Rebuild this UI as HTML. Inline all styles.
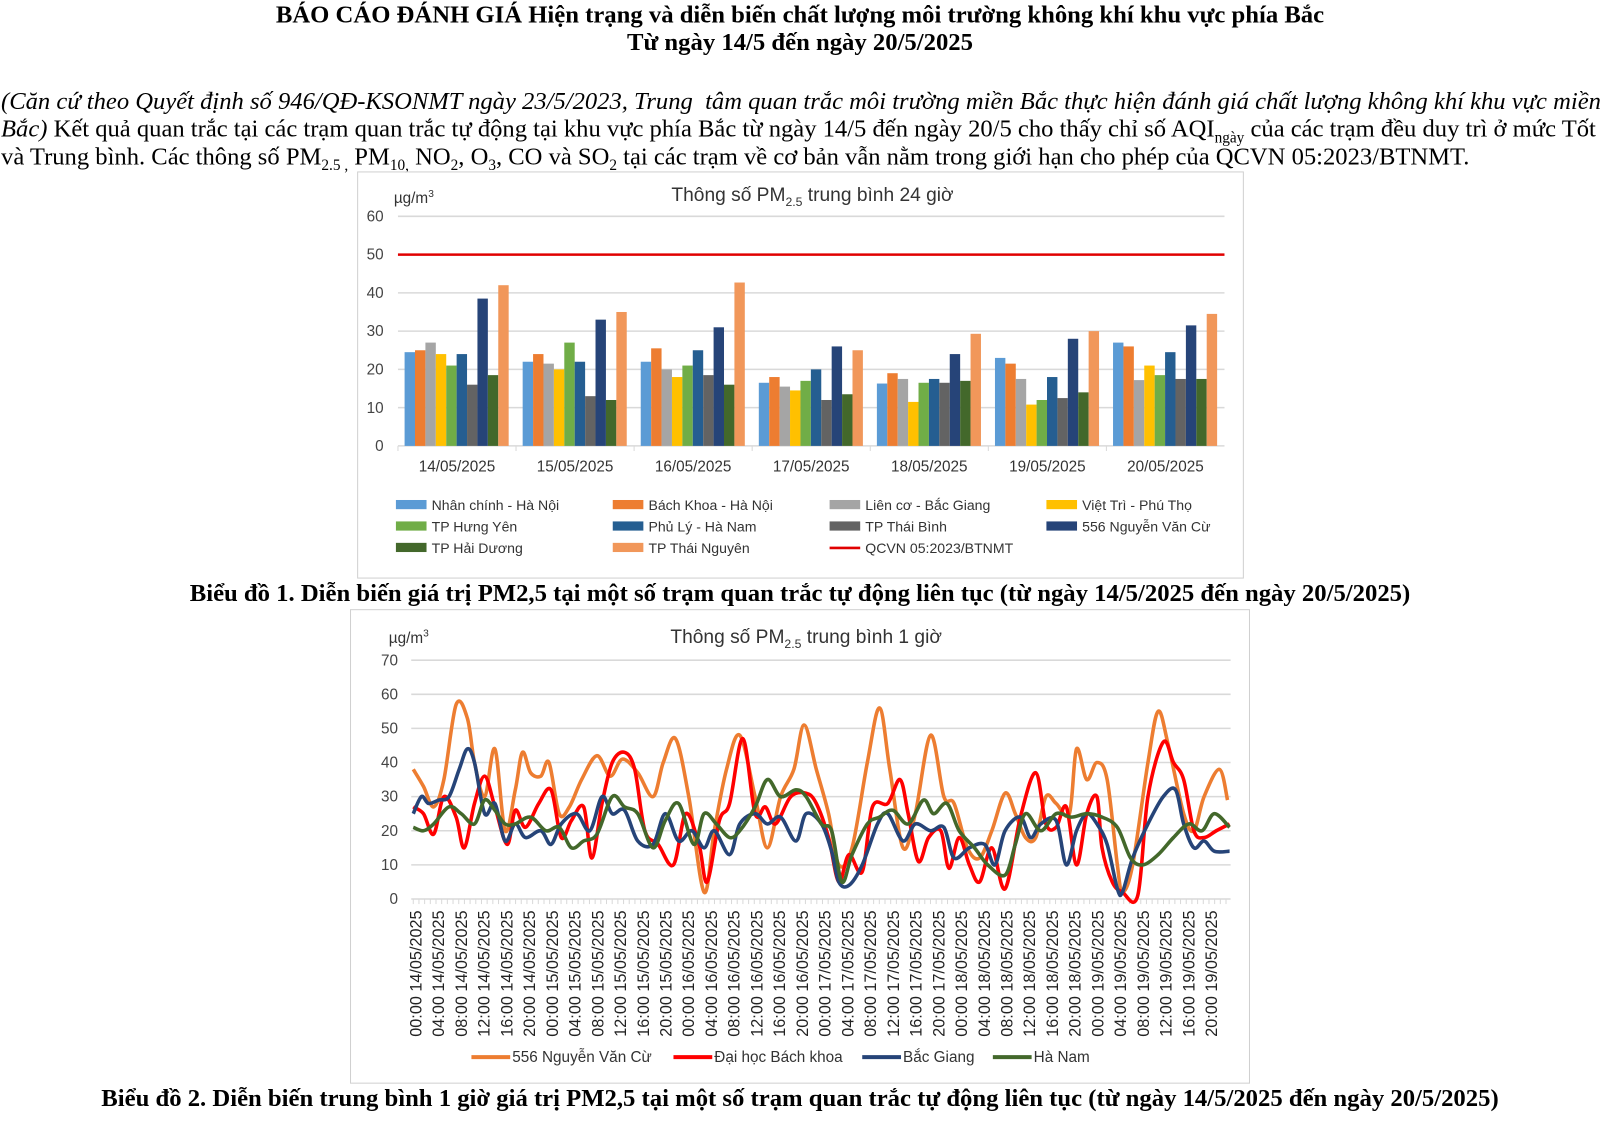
<!DOCTYPE html>
<html><head><meta charset="utf-8"><style>
body{margin:0;width:1600px;height:1132px;background:#fff;overflow:hidden}
#w{position:relative;width:1568px;height:1110px;transform:scale(1.0204);transform-origin:0 0;font-family:"Liberation Serif",serif;color:#000}
.t{position:absolute;left:0;width:1568px;text-align:center;font-weight:bold;font-size:24.2px;white-space:nowrap}
.p{position:absolute;left:1px;width:1600px;font-size:24.1px;white-space:nowrap}
sub{font-size:15px}
svg{position:absolute;left:0;top:0}
</style></head><body><div id="w">
<div class="t" style="top:1px">BÁO CÁO ĐÁNH GIÁ Hiện trạng và diễn biến chất lượng môi trường không khí khu vực phía Bắc</div>
<div class="t" style="top:28px">Từ ngày 14/5 đến ngày 20/5/2025</div>
<div class="p" style="top:87px"><i>(Căn cứ theo Quyết định số 946/QĐ-KSONMT ngày 23/5/2023, Trung&nbsp; tâm quan trắc môi trường miền Bắc thực hiện đánh giá chất lượng không khí khu vực miền</i></div>
<div class="p" style="top:114px"><i>Bắc)</i> Kết quả quan trắc tại các trạm quan trắc tự động tại khu vực phía Bắc từ ngày 14/5 đến ngày 20/5 cho thấy chỉ số AQI<sub>ngày</sub> của các trạm đều duy trì ở mức Tốt</div>
<div class="p" style="top:141px">và Trung bình. Các thông số PM<sub>2.5 ,</sub> PM<sub>10,</sub> NO<sub>2</sub>, O<sub>3</sub>, CO và SO<sub>2</sub> tại các trạm về cơ bản vẫn nằm trong giới hạn cho phép của QCVN 05:2023/BTNMT.</div>
<div class="t" style="top:568px;font-size:24.2px">Biểu đồ 1. Diễn biến giá trị PM2,5 tại một số trạm quan trắc tự động liên tục (từ ngày 14/5/2025 đến ngày 20/5/2025)</div>
<div class="t" style="top:1063px;font-size:24.2px">Biểu đồ 2. Diễn biến trung bình 1 giờ giá trị PM2,5 tại một số trạm quan trắc tự động liên tục (từ ngày 14/5/2025 đến ngày 20/5/2025)</div>
<svg id="s" width="1568" height="1110" font-family="Liberation Sans, sans-serif"></svg>
</div>
<script>
const s=document.getElementById('s');let h='';
function T(x,y,t,o){h+=`<text x="${x}" y="${y}" ${o||''}>${t}</text>`}
h+='<rect x="350.5" y="168.5" width="868" height="398" fill="none" stroke="#d0d0d0"/>';
T(386,199,'µg/m<tspan font-size="10" dy="-6">3</tspan>','font-size="15" fill="#333"');
T(658,197,'Thông số PM<tspan font-size="12" dy="5">2.5</tspan><tspan dy="-5"> trung bình 24 giờ</tspan>','font-size="18.8" fill="#333"');
for(let v=0;v<=60;v+=10){let y=437-v*3.75;h+=`<line x1="390" x2="1200" y1="${y}" y2="${y}" stroke="#d9d9d9" stroke-width="1.5"/>`;T(376,y+5,v,'font-size="15" fill="#444" text-anchor="end"')}
h+='<line x1="390" x2="1200" y1="249.5" y2="249.5" stroke="#e00000" stroke-width="2.5"/>';
const C=['#5b9bd5','#ed7d31','#a5a5a5','#ffc000','#70ad47','#255e91','#636363','#264478','#43682b','#f1975a'];
const D=[[24.5,25,27,24,21,24,16,38.5,18.5,42],[22,24,21.5,20,27,22,13,33,12,35],[22,25.5,20,18,21,25,18.5,31,16,42.7],[16.5,18,15.5,14.5,17,20,12,26,13.5,25],[16.3,19,17.5,11.5,16.5,17.5,16.5,24,17,29.3],[23,21.5,17.5,10.8,12,18,12.5,28,14,30],[27,26,17.2,21,18.5,24.5,17.5,31.5,17.5,34.5]];
const dates=['14/05/2025','15/05/2025','16/05/2025','17/05/2025','18/05/2025','19/05/2025','20/05/2025'];
const gw=810/7;
D.forEach((g,i)=>{let x0=390+i*gw+6.5;g.forEach((v,j)=>{h+=`<rect x="${x0+j*10.2}" y="${437-v*3.75}" width="10.2" height="${v*3.75}" fill="${C[j]}"/>`});T(390+i*gw+gw/2,462,dates[i],'font-size="15" fill="#333" text-anchor="middle"');h+=`<line x1="${390+i*gw}" x2="${390+i*gw}" y1="437" y2="442" stroke="#d9d9d9"/>`});
const L=['Nhân chính - Hà Nội','Bách Khoa - Hà Nội','Liên cơ - Bắc Giang','Việt Trì - Phú Thọ','TP Hưng Yên','Phủ Lý - Hà Nam','TP Thái Bình','556 Nguyễn Văn Cừ','TP Hải Dương','TP Thái Nguyên'];
L.forEach((t,i)=>{let c=i%4,r=Math.floor(i/4),x=388+c*212.5,y=495+r*21;h+=`<rect x="${x}" y="${y-5}" width="30" height="9" fill="${C[i]}"/>`;T(x+35,y+5,t,'font-size="13.8" fill="#333"')});
h+='<line x1="813" x2="843" y1="537" y2="537" stroke="#e00000" stroke-width="2.5"/>';T(848,542,'QCVN 05:2023/BTNMT','font-size="13.8" fill="#333"');
h+='<rect x="343.5" y="597.5" width="881" height="464" fill="none" stroke="#d0d0d0"/>';
T(381,630,'µg/m<tspan font-size="10" dy="-6">3</tspan>','font-size="15" fill="#333"');
T(657,630,'Thông số PM<tspan font-size="12" dy="5">2.5</tspan><tspan dy="-5"> trung bình 1 giờ</tspan>','font-size="18.8" fill="#333"');
for(let v=0;v<=70;v+=10){let y=881-v*3.343;h+=`<line x1="403" x2="1206" y1="${y}" y2="${y}" stroke="#d9d9d9" stroke-width="1.5"/>`;T(390,y+5,v,'font-size="15" fill="#444" text-anchor="end"')}
for(let i=0;i<144;i++){let x=405+i*5.57;h+=`<line x1="${x}" x2="${x}" y1="881" y2="886" stroke="#d9d9d9"/>`}
const ds=['14','15','16','17','18','19'];
for(let i=0;i<36;i++){let x=408+i*22.28+5;let hh=String((i%6)*4).padStart(2,'0')+':00 '+ds[Math.floor(i/6)]+'/05/2025';T(x,1016,hh,`font-size="15.9" fill="#222" transform="rotate(-90 ${x} 1016)"`)}
function P(a,col){let p=[];for(let i=0;i<a.length;i+=2)p.push([a[i],881-a[i+1]*3.343]);let d='M'+p[0];for(let i=0;i<p.length-1;i++){let p0=p[i-1]||p[i],p1=p[i],p2=p[i+1],p3=p[i+2]||p2;d+=` C${p1[0]+(p2[0]-p0[0])/6},${p1[1]+(p2[1]-p0[1])/6} ${p2[0]-(p3[0]-p1[0])/6},${p2[1]-(p3[1]-p1[1])/6} ${p2[0]},${p2[1]}`}h+=`<path d="${d}" fill="none" stroke="${col}" stroke-width="3.5" stroke-linejoin="round"/>`}
P([405,38,415,33,425,27,435,35,447,57,458,53,465,40,475,30,485,44,495,20,505,32,512,43,520,37,530,36,538,40,548,25,558,27,570,35,585,42,598,36,610,41,625,37,640,30,650,40,662,47,675,30,690,2,700,20,712,38,725,48,740,30,752,15,765,30,778,38,788,51,800,38,812,25,822,10,835,15,850,40,862,56,872,38,885,15,897,25,912,48,925,30,935,28,948,15,960,12,972,20,985,31,995,25,1005,18,1015,18,1025,30,1035,28,1048,25,1055,44,1065,35,1075,40,1085,35,1095,10,1100,2,1110,10,1125,40,1135,55,1145,45,1160,25,1170,20,1180,30,1195,38,1203,29],'#ed7d31');
P([405,27,415,25,425,19,435,30,447,24,455,15,465,28,475,36,485,27,497,16,505,26,515,21,528,28,540,32,550,18,560,23,572,27,580,12,590,28,600,40,612,43,622,38,632,20,645,16,660,10,672,25,685,16,693,5,705,23,715,28,728,47,740,25,750,27,760,22,775,30,790,31,800,28,812,18,822,5,832,13,845,8,855,27,870,28,882,35,890,25,900,11,910,18,922,20,930,9,940,18,950,10,960,5,972,15,985,3,1000,24,1015,37,1025,22,1035,21,1045,27,1055,10,1065,25,1075,30,1080,15,1090,5,1100,2,1115,1,1125,30,1140,46,1150,40,1160,35,1170,20,1180,18,1192,20,1205,22],'#ff0000');
P([405,25,413,30,420,28,430,29,440,30,450,38,458,44,465,40,475,25,485,28,495,17,505,22,515,18,530,20,540,16,550,22,565,25,578,20,590,30,600,25,612,26,625,17,640,16,652,25,665,17,678,20,690,15,700,20,715,13,725,22,740,25,752,22,765,24,780,17,790,25,805,22,815,14,822,5,832,4,845,10,860,22,870,25,885,17,897,22,912,20,925,21,935,12,950,15,965,16,975,10,985,20,1000,24,1010,18,1020,22,1035,23,1045,10,1055,20,1065,25,1075,22,1085,16,1095,3,1100,2,1110,12,1125,22,1140,30,1152,32,1160,22,1170,15,1180,17,1190,14,1205,14],'#264478');
P([405,21,415,20,425,22,440,27,452,25,465,22,475,29,485,26,495,22,505,22,520,24,535,20,548,21,560,15,572,17,585,19,600,30,612,27,625,25,640,15,652,23,665,28,680,16,690,25,702,22,715,18,725,20,740,27,752,35,765,30,780,32,790,30,805,22,815,20,825,5,835,13,850,22,862,24,875,26,890,22,905,29,915,25,928,28,940,20,955,15,968,10,985,7,995,16,1005,25,1020,20,1035,25,1050,24,1065,25,1080,24,1095,21,1108,12,1120,10,1135,13,1150,18,1165,22,1178,20,1190,25,1205,21],'#43682b');
[['556 Nguyễn Văn Cừ','#ed7d31',462],['Đại học Bách khoa','#ff0000',660],['Bắc Giang','#264478',845],['Hà Nam','#43682b',973]].forEach(a=>{h+=`<line x1="${a[2]}" x2="${a[2]+38}" y1="1036" y2="1036" stroke="${a[1]}" stroke-width="4"/>`;T(a[2]+40,1041,a[0],'font-size="15" fill="#333"')});
s.innerHTML=h;
</script>
</body></html>
